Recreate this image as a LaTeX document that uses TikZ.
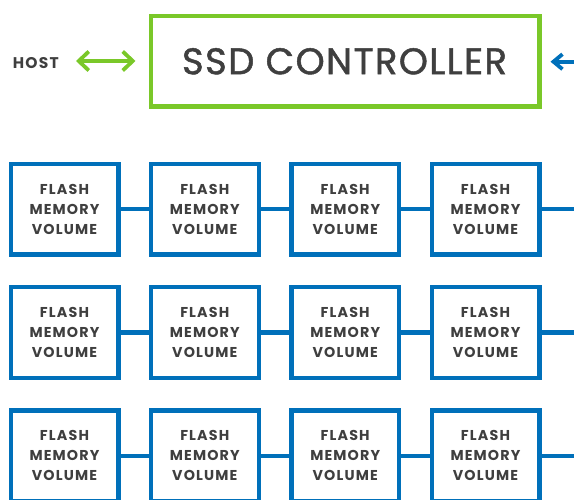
\documentclass[tikz,border=0pt]{standalone}
\usepackage{fontspec}
\setmainfont{Poppins}
\newfontfamily\lblfont[LetterSpace=8]{Poppins}
\newfontfamily\ctrlfont[LetterSpace=3.8,FakeBold=1.3]{Poppins}
\usetikzlibrary{arrows.meta}
\definecolor{sgreen}{HTML}{7AC829}
\definecolor{sblue}{HTML}{0070BA}
\definecolor{stext}{HTML}{3F3F3F}
\tikzset{
  flashbox/.style={draw=sblue, line width=4.3pt, minimum width=107.7pt, minimum height=90.7pt,
    inner sep=0pt, align=center, text=stext,
    font=\lblfont\bfseries\fontsize{14.3}{20}\selectfont},
  ctrlbox/.style={draw=sgreen, line width=4.3pt, minimum width=388.5pt, minimum height=90.5pt,
    inner sep=0pt, text=stext, font=\ctrlfont\fontsize{37}{40}\selectfont},
  hostlbl/.style={text=stext, inner sep=0pt, font=\lblfont\bfseries\fontsize{15.5}{18}\selectfont},
  link/.style={draw=sblue, line width=4.3pt},
  garrow/.style={draw=sgreen, line width=3.8pt, {Straight Barb[length=10pt,width=19pt]}-{Straight Barb[length=10pt,width=19pt]}},
  barrow/.style={draw=sblue, line width=3.8pt, {Straight Barb[length=9pt,width=15pt]}-}
}
\begin{document}
\begin{tikzpicture}[x=1pt,y=-1pt]
\useasboundingbox (0,0) rectangle (574,500);
\clip (0,0) rectangle (574,500);
\node[hostlbl] (host) at (35.8,62.8) {HOST};
\node[ctrlbox] (ctrl) at (345.3,61.3) {\hspace{-1.6pt}SSD CONTROLLER};
\coordinate (ga) at (76,61);
\coordinate (gb) at (135.5,61);
\draw[garrow] (ga) -- (gb);
\coordinate (ba) at (550.5,61.7);
\coordinate (bb) at (590,61.7);
\draw[barrow] (ba) -- (bb);
\foreach \r/\y in {1/209.2,2/332.5,3/455.8}{
  \foreach \c/\x in {1/64.5,2/204.8,3/345.2,4/485.5}{
    \node[flashbox] (f\r\c) at (\x,\y) {FLASH\\MEMORY\\VOLUME};
  }
  \coordinate (e\r) at (590,\y);
  \draw[link] (f\r1) -- (f\r2) (f\r2) -- (f\r3) (f\r3) -- (f\r4) (f\r4) -- (e\r);
}
\end{tikzpicture}
\end{document}
